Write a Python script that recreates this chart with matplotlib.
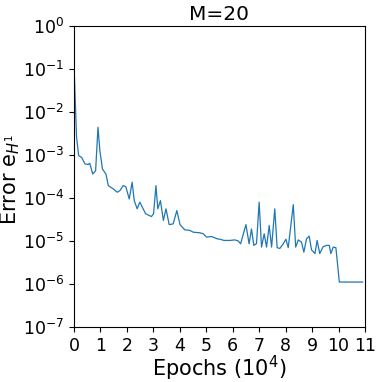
import matplotlib
matplotlib.use('Agg')
import matplotlib.pyplot as plt
import numpy as np

# epochs in units of 10^4, error
epochs = [0, 0.10, 0.18, 0.29, 0.42, 0.54, 0.60, 0.71, 0.82, 0.91, 0.98, 1.08, 1.21, 1.30,
          1.49, 1.64, 1.74, 1.86, 1.96, 2.09, 2.20, 2.28, 2.39, 2.49, 2.71, 2.93, 3.01,
          3.10, 3.17, 3.27, 3.38, 3.48, 3.60, 3.75, 3.89, 4.01, 4.19, 4.38, 4.51, 4.76,
          4.89, 5.01, 5.20, 5.42, 5.52, 5.67, 5.89, 6.08, 6.21, 6.30, 6.50, 6.62, 6.71,
          6.80, 6.90, 7.00, 7.09, 7.19, 7.28, 7.38, 7.47, 7.59, 7.68, 7.78, 7.91, 8.01,
          8.10, 8.19, 8.29, 8.38, 8.48, 8.60, 8.69, 8.79, 8.89, 8.98, 9.11, 9.19, 9.29,
          9.42, 9.55, 9.65, 9.71, 9.80, 9.90, 10.03, 10.91]
error = [1.4e-1, 2.6e-3, 9.6e-4, 8.8e-4, 6.2e-4, 6.0e-4, 6.4e-4, 3.6e-4, 4.3e-4, 4.4e-3,
         1.26e-3, 4.7e-4, 3.6e-4, 1.94e-4, 1.62e-4, 1.36e-4, 1.49e-4, 1.94e-4, 1.84e-4,
         9.5e-5, 2.32e-4, 8.7e-5, 5.6e-5, 8.0e-5, 4.3e-5, 3.7e-5, 4.3e-5, 1.94e-4, 5.6e-5,
         8.7e-5, 3.0e-5, 5.6e-5, 2.4e-5, 2.5e-5, 5.1e-5, 2.4e-5, 1.82e-5, 1.76e-5, 1.6e-5,
         1.55e-5, 1.47e-5, 1.23e-5, 1.27e-5, 1.12e-5, 1.1e-5, 1.03e-5, 1.03e-5, 1.06e-5,
         1.0e-5, 8.6e-6, 2.4e-5, 8.6e-6, 1.9e-5, 7.9e-6, 8.7e-6, 8.0e-5, 7.2e-6, 1.47e-5,
         7.2e-6, 2.3e-5, 7.2e-6, 5.6e-5, 7.0e-6, 6.7e-6, 8.6e-6, 1.1e-5, 7.0e-6, 2.1e-5,
         7.0e-5, 7.2e-6, 1.06e-5, 9.4e-6, 5.5e-6, 1.12e-5, 1.3e-5, 6.2e-6, 5.1e-6, 1.03e-5,
         5.1e-6, 7.4e-6, 7.9e-6, 7.9e-6, 5.1e-6, 7.2e-6, 7.0e-6, 1.11e-6, 1.11e-6]

fig = plt.figure(figsize=(3.81, 3.82), dpi=100)
ax = fig.add_axes([0.194, 0.144, 0.764, 0.788])
ax.plot(epochs, error, color='tab:blue', lw=0.9)
ax.set_yscale('log')
ax.set_ylim(1e-7, 1)
ax.set_xlim(0, 11)
ax.set_xticks(range(0, 12))
ax.set_yticks([10.0**k for k in range(-7, 1)])
ax.minorticks_off()
ax.tick_params(labelsize=12.5)
ax.set_xlabel('Epochs ($10^4$)', fontsize=15)
ax.set_ylabel('Error e$_{H^1}$', fontsize=15)
ax.xaxis.set_label_coords(0.5, -0.09)
ax.yaxis.set_label_coords(-0.178, 0.49)
ax.set_title('M=20', fontsize=14.5, pad=4)
fig.savefig('out.png', dpi=100)
